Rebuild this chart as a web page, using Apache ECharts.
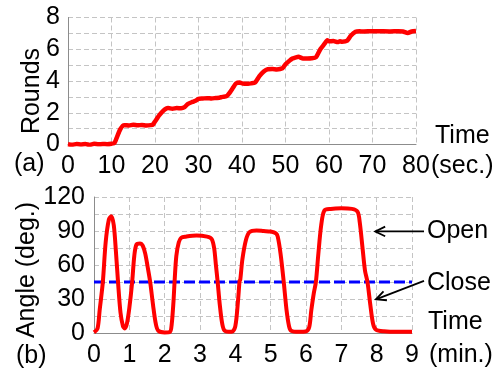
<!DOCTYPE html>
<html>
<head>
<meta charset="utf-8">
<script src="https://cdn.jsdelivr.net/npm/echarts@6/dist/echarts.min.js"></script>
<style>
  html, body { margin: 0; padding: 0; background: #fff; }
  #chart { width: 503px; height: 372px; }
</style>
</head>
<body>
<div id="chart"></div>
<script>
// (a) rounds completed over time (seconds)
const roundsTime = [0, 1, 2, 3, 4, 5, 6, 7, 8, 9, 10, 10.7, 11.3, 12, 12.6, 13, 14, 15, 16, 17, 18, 19, 19.5, 20, 21, 22, 22.6, 23, 24, 25, 26, 26.8, 27.5, 28.6, 29.3, 30, 31, 32, 33, 34, 34.8, 35.5, 36.5, 37, 38, 38.6, 39.5, 40, 41, 42, 43, 44, 45, 45.9, 47, 48, 49.3, 50, 51, 51.6, 52, 53, 54, 55, 56, 57, 58, 59, 59.6, 60, 61, 62, 62.5, 63, 64.2, 65, 66.1, 67, 68, 70, 72, 74, 76, 77, 78.1, 79, 80];
const roundsValue = [0.02, -0.02, 0.03, 0, 0.03, -0.03, 0.04, 0.01, 0.03, 0.02, 0.05, 0.1, 0.5, 0.95, 1.18, 1.22, 1.2, 1.24, 1.21, 1.23, 1.2, 1.22, 1.25, 1.45, 1.85, 2.15, 2.27, 2.3, 2.25, 2.3, 2.28, 2.35, 2.55, 2.68, 2.75, 2.88, 2.9, 2.92, 2.9, 2.93, 2.95, 3.0, 3.05, 3.2, 3.6, 3.84, 3.9, 3.85, 3.82, 3.85, 3.9, 4.3, 4.6, 4.74, 4.75, 4.73, 4.8, 5.05, 5.3, 5.42, 5.45, 5.52, 5.42, 5.42, 5.43, 5.5, 6.0, 6.35, 6.57, 6.5, 6.52, 6.45, 6.5, 6.48, 6.55, 6.85, 7.1, 7.13, 7.12, 7.14, 7.13, 7.12, 7.14, 7.12, 7.02, 7.12, 7.15];

// (b) opening angle over time (minutes)
const angleTime = [0, 0.1, 0.16, 0.25, 0.33, 0.42, 0.49, 0.56, 0.62, 0.68, 0.75, 0.82, 0.87, 0.93, 1.0, 1.08, 1.14, 1.2, 1.3, 1.38, 1.45, 1.52, 1.59, 1.67, 1.75, 1.82, 2.0, 2.15, 2.2, 2.25, 2.28, 2.33, 2.4, 2.47, 2.6, 2.9, 3.2, 3.33, 3.4, 3.45, 3.5, 3.56, 3.63, 3.7, 3.9, 4.0, 4.08, 4.12, 4.14, 4.2, 4.3, 4.4, 4.6, 4.8, 5.0, 5.15, 5.2, 5.28, 5.37, 5.45, 5.52, 5.58, 5.8, 6.0, 6.09, 6.15, 6.22, 6.28, 6.35, 6.43, 6.52, 6.7, 7.0, 7.3, 7.46, 7.52, 7.6, 7.67, 7.74, 7.82, 7.9, 7.98, 8.2, 8.6, 9.0];
const angleValue = [0.5, 4, 20, 45, 80, 100, 103, 95, 72, 45, 18, 6, 4, 8, 22, 45, 68, 78, 79, 77, 70, 58, 45, 25, 8, 2, 0.5, 1, 8, 28, 45, 68, 80, 84, 85, 86, 85, 83, 75, 60, 45, 25, 8, 2, 1, 6, 30, 46, 47, 65, 82, 89, 90.5, 90, 89.5, 88, 85, 70, 45, 20, 6, 2, 1, 1.5, 5, 20, 35, 45, 70, 95, 108, 109.5, 110, 109.5, 107, 98, 75, 55, 45, 25, 8, 3, 1.5, 1, 1];

// threshold between the open and closed states
const closeLevel = 45;

// axis ranges and tick steps
const roundsAxis = { min: 0, max: 8, step: 1, labelStep: 2 };
const secAxis = { min: 0, max: 80, step: 10 };
const angleAxis = { min: 0, max: 120, step: 15, labelStep: 30 };
const minAxis = { min: 0, max: 9, step: 1 };

// annotation arrows: [tail, tip] in (minutes, degrees)
const openArrow = [[9.34, 89.6], [7.96, 89.6]];
const closeArrow = [[9.34, 46], [7.98, 29.7]];

const FONT = 'Liberation Sans, Arial, Helvetica, sans-serif';
const FS = 25;

const gridLine = { show: true, lineStyle: { color: '#c4c4c4', type: [5, 3], width: 1 } };
const axisLine = { show: true, lineStyle: { color: '#8c8c8c', width: 1 } };
const labelBase = { color: '#000', fontFamily: FONT, fontSize: FS };

const zip = (a, b) => a.map((v, i) => [v, b[i]]);

const chart = echarts.init(document.getElementById('chart'), null, { renderer: 'canvas' });

const option = {
  animation: false,
  backgroundColor: '#fff',
  grid: [
    { left: 68, right: 87, top: 17.5, height: 127 },
    { left: 94, right: 91, top: 197, height: 136 }
  ],
  xAxis: [
    {
      type: 'value', gridIndex: 0, min: secAxis.min, max: secAxis.max, interval: secAxis.step,
      axisLine: axisLine, axisTick: { show: false }, splitLine: gridLine,
      axisLabel: Object.assign({ margin: 9 }, labelBase)
    },
    {
      type: 'value', gridIndex: 1, min: minAxis.min, max: minAxis.max, interval: minAxis.step,
      axisLine: axisLine, axisTick: { show: false }, splitLine: gridLine,
      axisLabel: Object.assign({ margin: 10 }, labelBase)
    }
  ],
  yAxis: [
    {
      type: 'value', gridIndex: 0, min: roundsAxis.min, max: roundsAxis.max, interval: roundsAxis.step,
      axisLine: axisLine, axisTick: { show: false }, splitLine: gridLine,
      axisLabel: Object.assign({
        margin: 8,
        formatter: v => (v % roundsAxis.labelStep === 0 ? String(v) : '')
      }, labelBase)
    },
    {
      type: 'value', gridIndex: 1, min: angleAxis.min, max: angleAxis.max, interval: angleAxis.step,
      axisLine: axisLine, axisTick: { show: false }, splitLine: gridLine,
      axisLabel: Object.assign({
        margin: 9,
        formatter: v => (v % angleAxis.labelStep === 0 ? String(v) : '')
      }, labelBase)
    }
  ],
  series: [
    {
      name: 'Rounds', type: 'line', xAxisIndex: 0, yAxisIndex: 0,
      data: zip(roundsTime, roundsValue), showSymbol: false, smooth: 0.2,
      lineStyle: { color: '#ff0000', width: 4.5 }
    },
    {
      name: 'Close', type: 'line', xAxisIndex: 1, yAxisIndex: 1,
      data: [[minAxis.min, closeLevel], [minAxis.max, closeLevel]], showSymbol: false,
      lineStyle: { color: '#0000ff', width: 3, type: [11, 4] }
    },
    {
      name: 'Angle', type: 'line', xAxisIndex: 1, yAxisIndex: 1,
      data: zip(angleTime, angleValue), showSymbol: false, smooth: 0.3,
      lineStyle: { color: '#ff0000', width: 4 }
    }
  ]
};

chart.setOption(option);

// text labels placed around the two panels
function txt(text, x, y, extra) {
  return Object.assign({
    type: 'text', x: x, y: y, z: 10,
    style: Object.assign({
      text: text, fill: '#000', font: FS + 'px ' + FONT,
      textAlign: 'left', textVerticalAlign: 'middle'
    }, (extra && extra.style) || {})
  }, extra && extra.rotation !== undefined ? { rotation: extra.rotation } : {});
}

// arrow from tail to tip with an open V head
function arrow(pair) {
  const tail = chart.convertToPixel({ xAxisIndex: 1, yAxisIndex: 1 }, pair[0]);
  const tip = chart.convertToPixel({ xAxisIndex: 1, yAxisIndex: 1 }, pair[1]);
  const ang = Math.atan2(tail[1] - tip[1], tail[0] - tip[0]);
  const len = 11, spread = 0.45;
  const h1 = [tip[0] + len * Math.cos(ang + spread), tip[1] + len * Math.sin(ang + spread)];
  const h2 = [tip[0] + len * Math.cos(ang - spread), tip[1] + len * Math.sin(ang - spread)];
  const st = { stroke: '#000', lineWidth: 1.8, fill: null };
  return [
    { type: 'polyline', z: 10, shape: { points: [tail, tip] }, style: st },
    { type: 'polyline', z: 10, shape: { points: [h1, tip, h2] }, style: st }
  ];
}

chart.setOption({
  graphic: [
    txt('Rounds', 32, 91, { rotation: Math.PI / 2, style: { textAlign: 'center' } }),
    txt('Angle (deg.)', 27, 270, { rotation: Math.PI / 2, style: { textAlign: 'center' } }),
    txt('Time', 435, 136),
    txt('(sec.)', 431, 166),
    txt('(a)', 14, 164),
    txt('Time', 428, 322),
    txt('(min.)', 429, 355),
    txt('(b)', 16, 356),
    txt('Open', 427, 231),
    txt('Close', 427, 283)
  ].concat(arrow(openArrow), arrow(closeArrow))
});
</script>
</body>
</html>
